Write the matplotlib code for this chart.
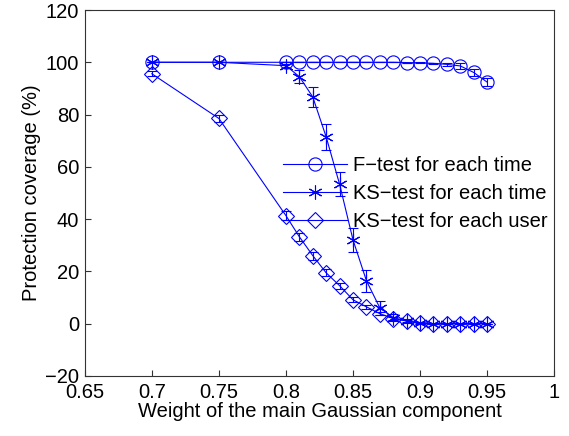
import matplotlib
matplotlib.use("Agg")
import matplotlib.pyplot as plt
import numpy as np

plt.rcParams["font.family"] = ["Liberation Sans", "DejaVu Sans"]

weights = [0.70, 0.75, 0.80, 0.81, 0.82, 0.83, 0.84, 0.85, 0.86, 0.87,
           0.88, 0.89, 0.90, 0.91, 0.92, 0.93, 0.94, 0.95]

f_time = [100, 100, 100, 100, 100, 100, 100, 100, 100, 100,
          100, 99.9, 99.8, 99.6, 99.2, 98.6, 96.1, 92.4]
f_time_err = [0, 0, 0, 0, 0, 0, 0, 0, 0, 0,
              0, 0, 0.2, 0.3, 0.6, 1.0, 1.5, 1.6]

ks_time = [100, 100, 98.7, 94.5, 86.7, 71.4, 53.3, 32.0, 16.4, 6.0,
           2.3, 1.0, 0.3, 0, 0, 0, 0, 0]
ks_time_err = [0, 0, 0.8, 2.4, 3.7, 4.8, 4.6, 4.5, 4.2, 2.6,
               1.2, 0.6, 0.3, 0, 0, 0, 0, 0]

ks_user = [95.6, 78.5, 41.3, 33.2, 26.0, 19.4, 14.5, 9.1, 6.4, 3.8,
           1.9, 1.0, 0.2, 0, 0, 0, 0, 0]
ks_user_err = [1.0, 1.2, 1.8, 1.6, 1.5, 1.3, 1.1, 0.9, 0.8, 0.6,
               0.5, 0.3, 0.2, 0, 0, 0, 0, 0]

fs = 14.5

fig = plt.figure(figsize=(5.69, 4.36), dpi=100)
ax = fig.add_axes([0.149, 0.138, 0.825, 0.839])

style = dict(color="blue", linewidth=0.8, markerfacecolor="none",
             markeredgecolor="blue", markeredgewidth=0.8,
             ecolor="blue", elinewidth=0.8, capsize=3.5, capthick=0.8)

ax.errorbar(weights, f_time, yerr=f_time_err, marker="o", markersize=9.5,
            label="F\u2212test for each time", **style)
ax.errorbar(weights, ks_time, yerr=ks_time_err, marker=(6, 2, 0),
            markersize=10, label="KS\u2212test for each time", **style)
ax.errorbar(weights, ks_user, yerr=ks_user_err, marker="D", markersize=8,
            label="KS\u2212test for each user", **style)

ax.set_xlim(0.65, 1.0)
ax.set_ylim(-20, 120)
ax.set_xticks(np.arange(0.65, 1.001, 0.05))
ax.set_xticklabels(["0.65", "0.7", "0.75", "0.8", "0.85", "0.9", "0.95", "1"])
ax.set_yticks(np.arange(-20, 121, 20))
ax.tick_params(direction="in", labelsize=fs, length=4, width=0.8,
               color="#333333")
ax.tick_params(axis="y", pad=4)
ax.tick_params(axis="x", pad=5)
for sp in ax.spines.values():
    sp.set_linewidth(0.8)
    sp.set_color("#333333")

ax.set_xlabel("Weight of the main Gaussian component", fontsize=fs, labelpad=0)
ax.set_ylabel("Protection coverage (%)", fontsize=fs, labelpad=3)

handles, labels = ax.get_legend_handles_labels()
handles = [h[0] for h in handles]
ax.legend(handles, labels, loc="center left",
          bbox_to_anchor=(0.497, 0.557), bbox_transform=fig.transFigure,
          frameon=False, fontsize=fs, handlelength=3.2, handletextpad=0.3,
          labelspacing=0.45, borderpad=0, borderaxespad=0)

fig.savefig("out.png", dpi=100)
